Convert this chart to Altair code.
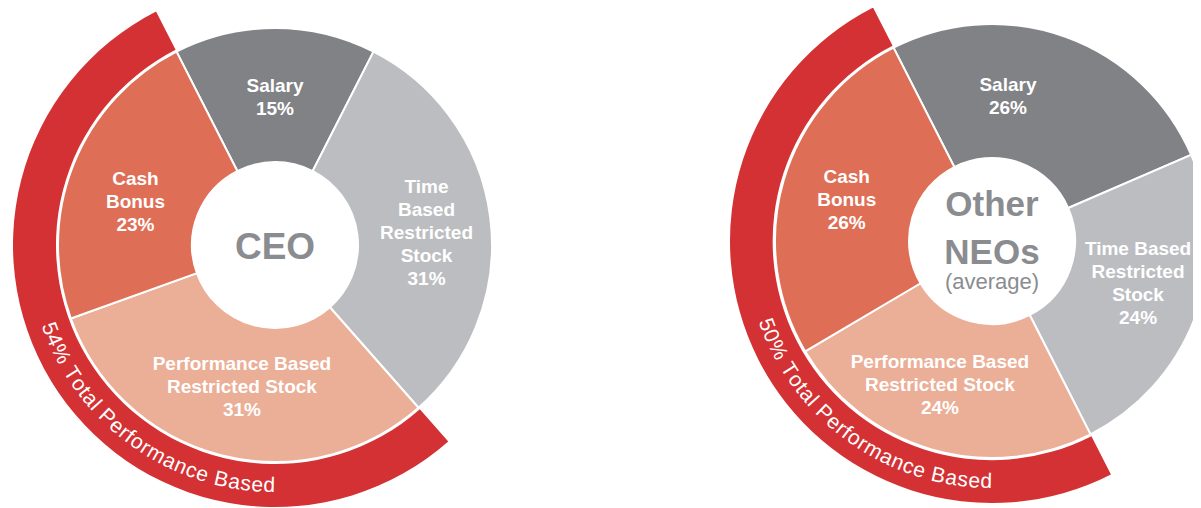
import math
import altair as alt
import pandas as pd

# ---------------- data ----------------
PANELS = ["CEO", "NEO"]
CATEGORIES = ["Salary", "Time Based Restricted Stock",
              "Performance Based Restricted Stock", "Cash Bonus"]
CEO_VALUES = [15, 31, 31, 23]
NEO_VALUES = [26, 24, 24, 26]
PERFORMANCE_BASED = [False, False, True, True]
CEO_LABELS = ["Salary", "Time\nBased\nRestricted\nStock",
              "Performance Based\nRestricted Stock", "Cash\nBonus"]
NEO_LABELS = ["Salary", "Time Based\nRestricted\nStock",
              "Performance Based\nRestricted Stock", "Cash\nBonus"]
CENTER_TITLES = ["CEO", "Other\nNEOs"]
CENTER_SUBTITLES = ["", "(average)"]
RING_SUFFIX = "% Total Performance Based"

# ---------------- style / layout ----------------
COLORS = ["#808285", "#BCBDC0", "#EBAE96", "#DE6E55"]
RED = "#D43134"
CENTER_GREY = "#8A8C8F"
FONT = "Liberation Sans"
START_DEG = -27
CENTER_X = [267, 984]
CENTER_Y = [237, 233]
HOLE_R, SLICE_R, RING_IN, RING_OUT = 83, 217, 219, 262
LABEL_LH = 23
LABEL_NUDGE = {"CEO": [0, 2.7, -1.3, -4.5], "NEO": [-13.5, -3.7, 3.7, -0.4]}
LABEL_RADIUS = {"CEO": [148, 152, 146, 146], "NEO": [145, 152, 153, 151]}
RING_TEXT_CENTER_DEG = 215.5
RING_TEXT_R = 241
RING_FS = 21
RING_TRACK = 0.5
W, H = 1185, 500

# Arial / Liberation Sans regular advance widths (per 1000 em)
CHAR_W = {str(d): 556 for d in range(10)}
CHAR_W.update({'%': 889, ' ': 278, 'T': 611, 'o': 556, 't': 278, 'a': 556,
               'l': 222, 'P': 667, 'e': 556, 'r': 333, 'f': 278, 'm': 833,
               'n': 556, 'c': 500, 'B': 667, 's': 500, 'd': 556})

# ---------------- tables ----------------
rows = []
for panel, vals, labels in [("CEO", CEO_VALUES, CEO_LABELS), ("NEO", NEO_VALUES, NEO_LABELS)]:
    for i, (cat, v, lab, perf) in enumerate(zip(CATEGORIES, vals, labels, PERFORMANCE_BASED)):
        text = f"{lab}\n{v}%"
        rows.append(dict(panel=panel, category=cat, value=v, order=i, perf=perf,
                         label=text, nlines=text.count("\n") + 1,
                         nudge=LABEL_NUDGE[panel][i], lrad=LABEL_RADIUS[panel][i]))
df = pd.DataFrame(rows)

centers = pd.DataFrame(dict(panel=PANELS, title=CENTER_TITLES, sub=CENTER_SUBTITLES))

char_rows = []
for panel, vals in [("CEO", CEO_VALUES), ("NEO", NEO_VALUES)]:
    total = sum(v for v, p in zip(vals, PERFORMANCE_BASED) if p)
    s = f"{total}{RING_SUFFIX}"
    widths = [CHAR_W.get(ch, 556) * RING_FS / 1000 for ch in s]
    L = sum(widths) + RING_TRACK * (len(s) - 1)
    pos = 0.0
    for ch, w in zip(s, widths):
        c = pos + w / 2
        deg = RING_TEXT_CENTER_DEG + (L / 2 - c) / RING_TEXT_R * 180 / math.pi
        pos += w + RING_TRACK
        if ch == " ":
            continue
        char_rows.append(dict(panel=panel, ch=ch, tpct=(deg - START_DEG) / 3.6,
                              rot=(deg - 180) % 360))
chars = pd.DataFrame(char_rows)

# ---------------- scales ----------------
xs = alt.Scale(type="point", domain=PANELS, range=CENTER_X, padding=0)
ys = alt.Scale(type="point", domain=PANELS, range=CENTER_Y, padding=0)
ts = alt.Scale(domain=[0, 100], range=[math.radians(START_DEG), math.radians(START_DEG + 360)],
               zero=False, nice=False)
X = alt.X("panel:N", scale=xs, axis=None)
Y = alt.Y("panel:N", scale=ys, axis=None)


def stacked(chart):
    return chart.transform_window(
        cum="sum(value)", groupby=["panel"], sort=[alt.SortField("order", order="ascending")],
        frame=[None, 0]
    ).transform_calculate(start="datum.cum - datum.value")


slices = stacked(alt.Chart(df)).mark_arc(
    innerRadius=HOLE_R, outerRadius=SLICE_R, stroke="white", strokeWidth=2
).encode(
    x=X, y=Y,
    theta=alt.Theta("start:Q", scale=ts),
    theta2="cum:Q",
    color=alt.Color("category:N", scale=alt.Scale(domain=CATEGORIES, range=COLORS), legend=None),
)

ring = stacked(alt.Chart(df)).transform_filter("datum.perf").transform_aggregate(
    start="min(start)", end="max(cum)", groupby=["panel"]
).mark_arc(innerRadius=RING_IN, outerRadius=RING_OUT, color=RED).encode(
    x=X, y=Y, theta=alt.Theta("start:Q", scale=ts), theta2="end:Q"
)

# label block centred at (mid angle + nudge, radius); the first line's anchor sits
# (n-1)/2 line heights above that centre
labels = stacked(alt.Chart(df)).transform_calculate(
    rad=f"({START_DEG} + (datum.start + datum.value / 2) * 3.6 + datum.nudge) * PI / 180"
).transform_calculate(
    ax="datum.lrad * sin(datum.rad)",
    ay=f"-datum.lrad * cos(datum.rad) - (datum.nlines - 1) * {LABEL_LH} / 2"
).transform_calculate(
    lt=f"(atan2(datum.ax, -datum.ay) * 180 / PI - ({START_DEG})) / 3.6",
    lr="sqrt(datum.ax * datum.ax + datum.ay * datum.ay)"
).mark_text(
    font=FONT, fontSize=19, fontWeight="bold", color="white",
    lineBreak="\n", lineHeight=LABEL_LH, align="center", baseline="middle"
).encode(
    x=X, y=Y, theta=alt.Theta("lt:Q", scale=ts),
    radius=alt.Radius("lr:Q", scale=None), text="label:N"
)

ring_text = alt.Chart(chars).mark_text(
    radius=RING_TEXT_R, font=FONT, fontSize=RING_FS, color="white",
    align="center", baseline="middle"
).encode(
    x=X, y=Y, theta=alt.Theta("tpct:Q", scale=ts),
    angle=alt.Angle("rot:Q", scale=None), text="ch:N"
)

title_ceo = alt.Chart(centers).transform_filter("datum.panel == 'CEO'").mark_text(
    font=FONT, fontSize=37, fontWeight="bold", color=CENTER_GREY, dy=3,
    align="center", baseline="middle"
).encode(x=X, y=Y, text="title:N")

title_neo = alt.Chart(centers).transform_filter("datum.panel == 'NEO'").mark_text(
    font=FONT, fontSize=35, fontWeight="bold", color=CENTER_GREY, dy=-36,
    lineBreak="\n", lineHeight=48, align="center", baseline="middle"
).encode(x=X, y=Y, text="title:N")

sub_neo = alt.Chart(centers).transform_filter("datum.sub != ''").mark_text(
    font=FONT, fontSize=22, color=CENTER_GREY, dy=41, align="center", baseline="middle"
).encode(x=X, y=Y, text="sub:N")

chart = alt.layer(ring, slices, labels, ring_text, title_ceo, title_neo, sub_neo).properties(
    width=W, height=H, padding=0, autosize=alt.AutoSizeParams(type="none"), background="white"
).configure_view(strokeWidth=0)

chart.save("out.html", embed_options={"renderer": "svg", "actions": False})
